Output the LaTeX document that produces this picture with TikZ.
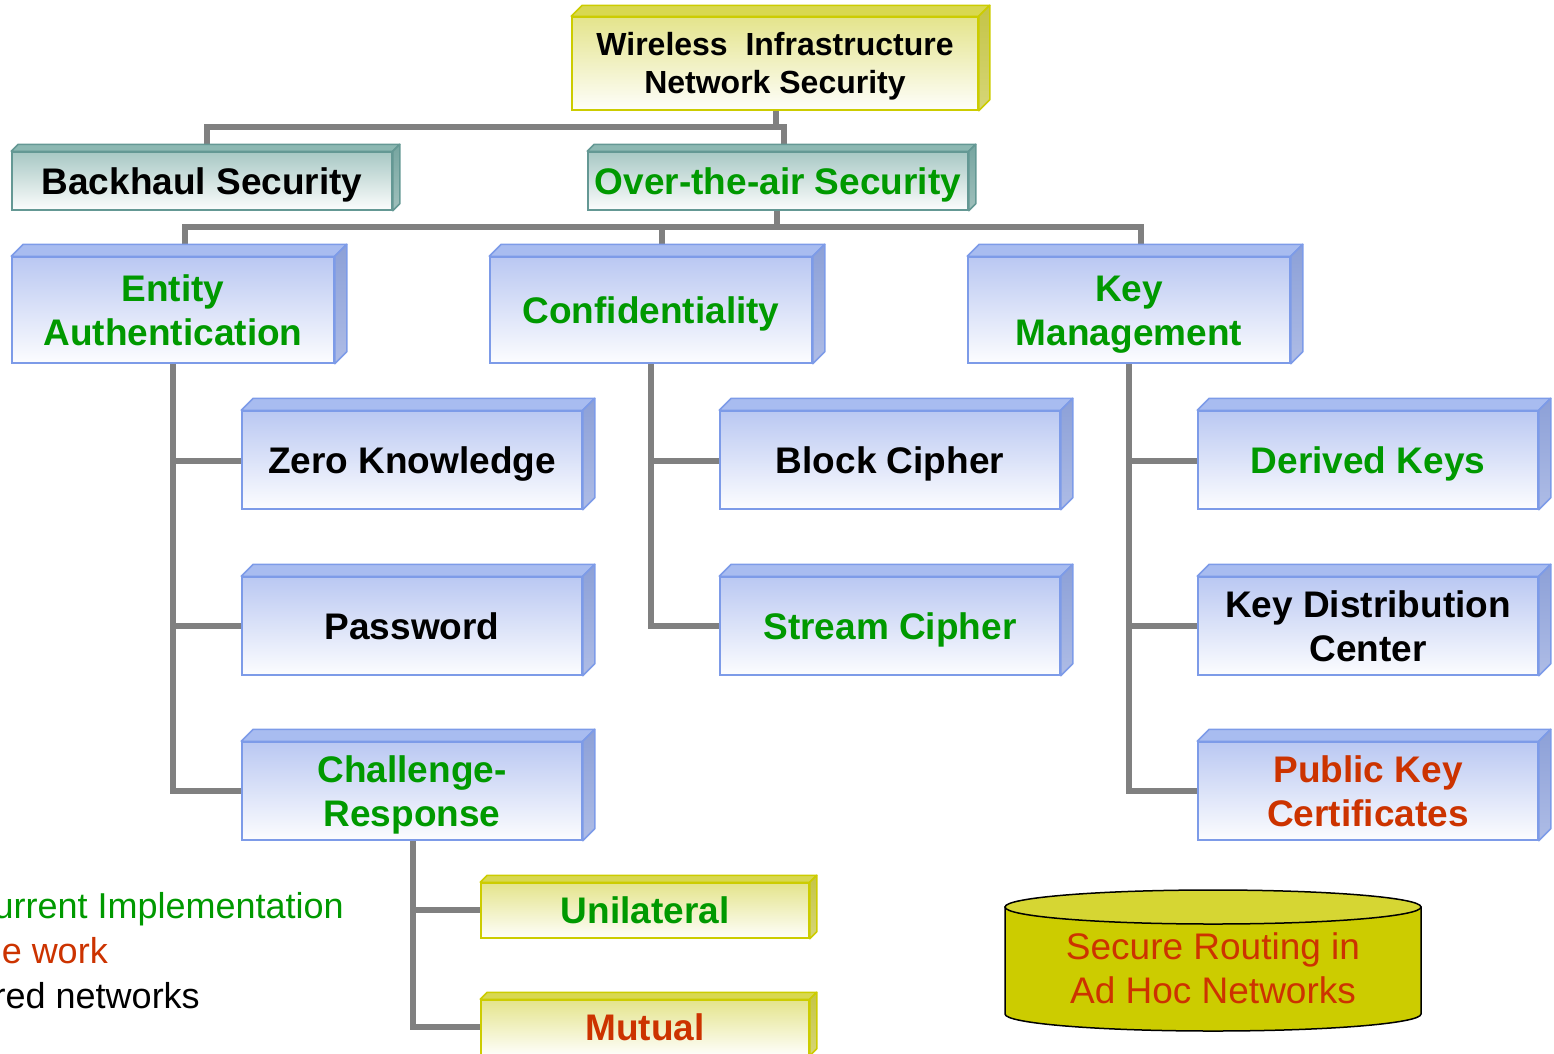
\documentclass[tikz,border=0pt]{standalone}
\usepackage{fontspec}
\setmainfont{Liberation Sans}
\usetikzlibrary{calc}

% text colours
\definecolor{gtxt}{RGB}{0,153,0}
\definecolor{rtxt}{RGB}{204,51,0}
\definecolor{linegray}{RGB}{128,128,128}
% blue boxes
\definecolor{bfront}{RGB}{186,200,242}
\definecolor{bborder}{RGB}{125,155,232}
\definecolor{btop}{RGB}{168,188,240}
\definecolor{bsideA}{RGB}{140,160,215}
\definecolor{bsideB}{RGB}{174,188,230}
% teal boxes
\definecolor{tfront}{RGB}{168,200,196}
\definecolor{tborder}{RGB}{100,152,148}
\definecolor{ttop}{RGB}{140,184,178}
\definecolor{tsideA}{RGB}{118,165,160}
\definecolor{tsideB}{RGB}{160,192,188}
% yellow boxes
\definecolor{yfront}{RGB}{228,228,140}
\definecolor{yborder}{RGB}{204,204,0}
\definecolor{ytop}{RGB}{216,216,80}
\definecolor{ysideA}{RGB}{196,196,70}
\definecolor{ysideB}{RGB}{214,214,120}
% cylinder
\definecolor{cylbody}{RGB}{204,204,0}
\definecolor{cyltop}{RGB}{214,214,51}

\tikzset{
  boxfont/.style={font=\fontsize{37}{44}\selectfont\bfseries},
  % keep the capitals centred in the front face (baseline = last line)
  oneline/.style={text height=30pt, text depth=3.5pt},
  twoline/.style={text height=74pt, text depth=3.5pt},
  bluefront/.style={draw=bborder, top color=bfront, bottom color=white!96!bfront},
  bluetop/.style={fill=btop, draw=bborder},
  blueside/.style={top color=bsideA, bottom color=bsideB, draw=bborder},
  tealfront/.style={draw=tborder, top color=tfront, bottom color=white!96!tfront},
  tealtop/.style={fill=ttop, draw=tborder},
  tealside/.style={top color=tsideA, bottom color=tsideB, draw=tborder},
  yelfront/.style={draw=yborder, top color=yfront, bottom color=white!96!yfront},
  yeltop/.style={fill=ytop, draw=yborder},
  yelside/.style={top color=ysideA, bottom color=ysideB, draw=yborder},
  conn/.style={draw=linegray, line width=6pt},
  legend/.style={font=\fontsize{36}{45}\selectfont, inner sep=0pt},
}

% 3D box: #1 kind, #2 name, #3-#6 front face corners, #7 depth, #8 node options, #9 text
\newcommand\cubox[9]{%
  \node[#1front, boxfont, line width=1.5pt, inner sep=0pt, align=center,
        minimum width={(#5-#3)*1pt}, minimum height={(#6-#4)*1pt}, #8]
        (#2) at ({(#3+#5)/2},{(#4+#6)/2}) {#9};
  \path[#1top, line width=1.5pt, line join=round]
    (#2.north west) -- ++(#7,-#7) -- ([shift={(#7,-#7)}]#2.north east)
    -- (#2.north east) -- cycle;
  \path[#1side, line width=1.5pt, line join=round]
    (#2.north east) -- ++(#7,-#7) -- ([shift={(#7,-#7)}]#2.south east)
    -- (#2.south east) -- cycle;
}

\begin{document}
\begin{tikzpicture}[x=1pt, y=-1pt]
\useasboundingbox (0,0) rectangle (1554,1053);
\clip (0,0) rectangle (1554,1053);

% ---- connectors (drawn first, boxes sit on top) ----
\coordinate (busA) at (784,127);
\coordinate (busB) at (1141,227);
\draw[conn] (776,110) -- (776,127);
\draw[conn] (207,152) |- (busA) -- (784,152);
\draw[conn] (777,210) -- (777,227);
\draw[conn] (185,257) |- (busB) -- (1141,257);
\draw[conn] (662,227) -- (662,257);

% ---- boxes ----
\cubox{yel}{title}{572}{17}{978}{110}{11}{font=\fontsize{32}{38}\selectfont\bfseries, text height=64pt, text depth=3.1pt}{Wireless~~Infrastructure\\Network Security}
\cubox{teal}{bh}{12}{152}{392}{210}{7}{oneline}{Backhaul Security}
\cubox{teal}{ota}{588}{152}{968}{210}{7}{oneline, text=gtxt}{Over-the-air Security}

\cubox{blue}{ent}{12}{257}{334}{363}{12}{twoline, text=gtxt}{Entity\\Authentication}
\cubox{blue}{conf}{490}{257}{812}{363}{12}{oneline, text=gtxt}{Confidentiality}
\cubox{blue}{km}{968}{257}{1290}{363}{12}{twoline, text=gtxt}{Key\\Management}

% branches below the second level
\draw[conn] (ent.south) |- (242,791);
\draw[conn] (ent.south |- 0,461) -- (242,461);
\draw[conn] (ent.south |- 0,626) -- (242,626);
\draw[conn] (conf.south) |- (720,626);
\draw[conn] (conf.south |- 0,461) -- (720,461);
\draw[conn] (km.south) |- (1198,791);
\draw[conn] (km.south |- 0,461) -- (1198,461);
\draw[conn] (km.south |- 0,626) -- (1198,626);
\draw[conn] (413,840) |- (481,1027);
\draw[conn] (413,910) -- (481,910);

\cubox{blue}{zk}{242}{411}{582}{509}{12}{oneline}{Zero Knowledge}
\cubox{blue}{pw}{242}{577}{582}{675}{12}{oneline}{Password}
\cubox{blue}{cr}{242}{742}{582}{840}{12}{twoline, text=gtxt}{Challenge-\\Response}
\cubox{blue}{bc}{720}{411}{1060}{509}{12}{oneline}{Block Cipher}
\cubox{blue}{sc}{720}{577}{1060}{675}{12}{oneline, text=gtxt}{Stream Cipher}
\cubox{blue}{dk}{1198}{411}{1538}{509}{12}{oneline, text=gtxt}{Derived Keys}
\cubox{blue}{kdc}{1198}{577}{1538}{675}{12}{twoline}{Key Distribution\\Center}
\cubox{blue}{pkc}{1198}{742}{1538}{840}{12}{twoline, text=rtxt}{Public Key\\Certificates}

\cubox{yel}{uni}{481}{883}{809}{938}{7}{oneline, text=gtxt}{Unilateral}
\cubox{yel}{mut}{481}{1000}{809}{1055}{7}{oneline, text=rtxt}{Mutual}

% ---- legend ----
\node[legend, anchor=base east, text=gtxt] (lg1) at (344,918) {urrent Implementation};
\node[legend, anchor=base east, text=rtxt] (lg2) at (108,963) {e work};
\node[legend, anchor=base east, text=black] (lg3) at (200,1008) {red networks};

% ---- cylinder ----
\filldraw[fill=cylbody, draw=black, line width=1.5pt]
  (1005,907) -- (1005,1014) arc[start angle=180, end angle=0, x radius=208, y radius=17]
  -- (1421,907) -- cycle;
\filldraw[fill=cyltop, draw=black, line width=1.5pt]
  (1213,907) ellipse[x radius=208, y radius=17];
\node[font=\fontsize{37}{44}\selectfont, text=rtxt, align=center] (cyl) at (1213,968)
  {Secure Routing in\\Ad Hoc Networks};
\end{tikzpicture}
\end{document}
